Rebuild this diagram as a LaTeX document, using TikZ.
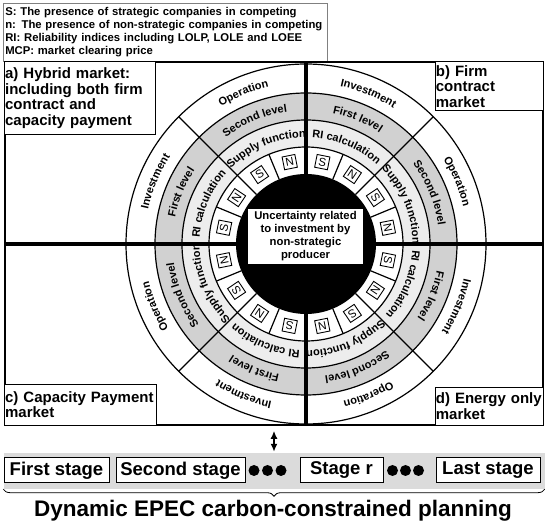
\documentclass[tikz,border=0pt]{standalone}
\usepackage{fontspec}
\setmainfont{Liberation Sans}
\usetikzlibrary{positioning,decorations.text,decorations.pathreplacing,arrows.meta}
\definecolor{levelgray}{gray}{0.82}
\definecolor{calcgray}{gray}{0.93}
\definecolor{bandgray}{gray}{0.86}
\newcommand{\ringfont}{\fontsize{11}{13}\selectfont\bfseries}

\begin{document}
\begin{tikzpicture}
		[x=1pt, y=1pt,
		ringline/.style={line width=1.2pt},
		crossline/.style={line width=3.5pt},
		ringlabel/.style={decorate, decoration={text along path, text={|\ringfont|#1}, text align=center}},
		snbox/.style={draw, line width=0.9pt, fill=white, minimum size=13pt, inner sep=0pt, font=\fontsize{11.5}{12}\selectfont},
		marketbox/.style={draw, line width=0.9pt, fill=white, align=left, inner xsep=0.5pt, inner ysep=0pt, font=\fontsize{15}{15.5}\selectfont\bfseries},
		stagebox/.style={draw, line width=1pt, fill=white, minimum height=25pt, inner sep=0pt, font=\fontsize{18.5}{20}\selectfont\bfseries},
		stagedot/.style={circle, fill, minimum size=11pt, inner sep=0pt}
		]
		\useasboundingbox (0,0) rectangle (550,-524);
		\node[draw=gray, line width=0.6pt, anchor=north west, text width=320pt, inner xsep=2pt, minimum height=58pt, align=left, font=\fontsize{11.3}{13}\selectfont\bfseries] (legend) at (3,-3)
			{S: The presence of strategic companies in competing\\
			n: The presence of non-strategic companies in competing\\
			RI: Reliability indices including LOLP, LOLE and LOEE\\
			MCP: market clearing price};
		\node[draw, line width=1.6pt, minimum width=538pt, minimum height=363pt, inner sep=0pt] (frame) at (274,-243.5) {};
		\coordinate (c) at (306,-244);
		\begin{scope}[shift={(c)}, ringline]
			\filldraw[fill=white] (0,0) circle (180);
			\filldraw[fill=levelgray] (0,0) circle (151);
			\filldraw[fill=calcgray] (0,0) circle (124);
			\filldraw[fill=white] (0,0) circle (97);
			\fill (0,0) circle (70);
			\foreach \a in {45,135,225,315}
				\draw (\a:97) -- (\a:180);
			\foreach \a in {0,22.5,...,337.5}
				\draw (\a:70) -- (\a:97);
			\foreach \k in {0,...,7} {
				\node[snbox, rotate=78.75-45*\k] (s\k) at (168.75-45*\k:83.5) {S};
				\node[snbox, rotate=56.25-45*\k] (n\k) at (146.25-45*\k:83.5) {N};
			}
			\foreach \a in {0,90,180,270} {
				\path[ringlabel=Operation] (\a+57:161.5) arc[start angle=\a+57, end angle=\a-12, radius=161.5];
				\path[ringlabel=Investment] (\a+102:161.5) arc[start angle=\a+102, end angle=\a+33, radius=161.5];
				\path[ringlabel=Second level] (\a+57:133.5) arc[start angle=\a+57, end angle=\a-12, radius=133.5];
				\path[ringlabel=First level] (\a+102:133.5) arc[start angle=\a+102, end angle=\a+33, radius=133.5];
				\path[ringlabel=Supply function] (\a+57:106.5) arc[start angle=\a+57, end angle=\a-12, radius=106.5];
				\path[ringlabel=RI calculation] (\a+102:106.5) arc[start angle=\a+102, end angle=\a+33, radius=106.5];
			}
		\end{scope}
		\draw[crossline] (frame.west |- c) -- (frame.east |- c);
		\draw[crossline] (frame.north -| c) -- (frame.south -| c);
		\node[fill=white, minimum width=115pt, minimum height=55pt, inner sep=0pt, align=center, font=\fontsize{11.3}{13}\selectfont\bfseries] (uncert) at (305.5,-236.5)
			{Uncertainty related\\to investment by\\non-strategic\\producer};
		\node[marketbox, anchor=north west, text width=150pt, minimum height=73pt] (hybrid) at (frame.north west)
			{a) Hybrid market:\\including both firm\\contract and\\capacity payment};
		\node[marketbox, anchor=north east, text width=107pt, minimum height=49pt] (firm) at (frame.north east)
			{b) Firm\\contract\\market};
		\node[marketbox, anchor=south west, text width=151pt, minimum height=41pt] (capacity) at (frame.south west)
			{\mbox{c) Capacity Payment}\\market};
		\node[marketbox, anchor=south east, text width=107pt, minimum height=38pt] (energy) at (frame.south east)
			{\mbox{d) Energy only}\\market};
		\node[fill=bandgray, minimum width=541pt, minimum height=36pt, inner sep=0pt] (band) at (274,-471) {};
		\node[stagebox, minimum width=105pt] (first) at (56.5,-470.5) {First stage};
		\node[stagebox, minimum width=129pt, right=6pt of first] (second) {Second stage};
		\node[stagebox, minimum width=83pt] (stager) at (341.5,-470.5) {Stage r};
		\node[stagebox, minimum width=104pt] (last) at (488,-470.5) {Last stage};
		\foreach \x/\n in {254/1,267.5/2,281/3,392.5/4,405.5/5,418.5/6}
			\node[stagedot] (dot\n) at (\x,-470.5) {};
		\draw[{Latex[length=8pt,width=7pt]}-{Latex[length=8pt,width=7pt]}, line width=2.5pt, shorten <=5pt, shorten >=1pt] (frame.south) -- (band.north);
		\draw[decorate, decoration={brace, mirror, amplitude=7pt}, line width=0.8pt] (band.south west) -- (band.south east);
		\node[font=\fontsize{22.5}{24}\selectfont\bfseries, anchor=base] (title) at (273,-516.5) {Dynamic EPEC carbon-constrained planning};
	\end{tikzpicture}
\end{document}
